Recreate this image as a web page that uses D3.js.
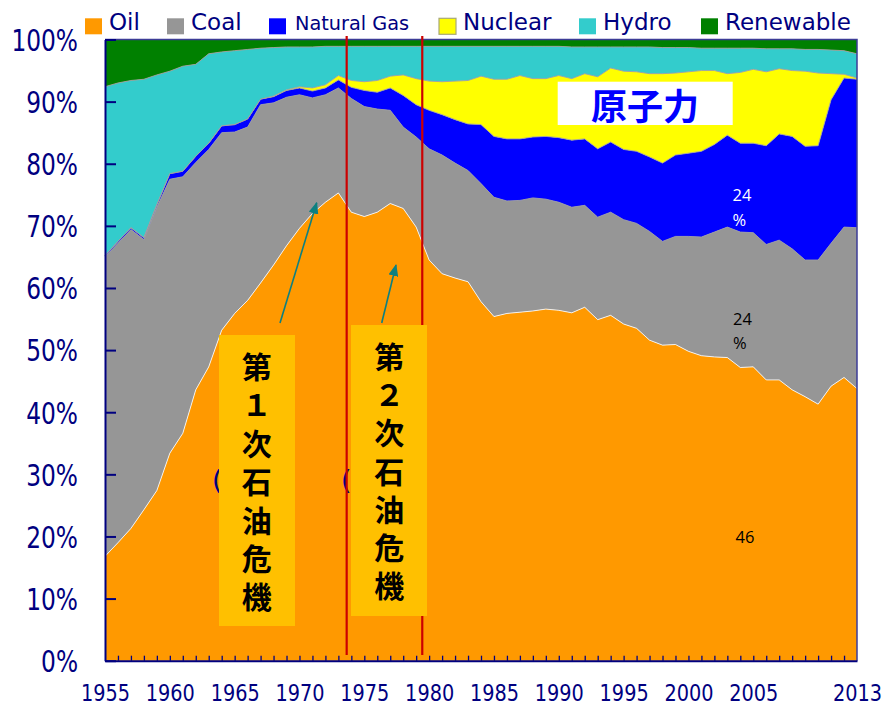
<!DOCTYPE html>
<html><head><meta charset="utf-8">
<script src="https://cdn.jsdelivr.net/npm/d3@7"></script>
<style>body{margin:0;background:#fff;} svg{display:block}</style>
</head><body>
<svg id="chart" width="884" height="706"></svg>
<script>
// ---------------- DATA ----------------
const years = [1955,1956,1957,1958,1959,1960,1961,1962,1963,1964,1965,1966,1967,1968,1969,
  1970,1971,1972,1973,1974,1975,1976,1977,1978,1979,1980,1981,1982,1983,1984,1985,1986,1987,
  1988,1989,1990,1991,1992,1993,1994,1995,1996,1997,1998,1999,2000,2001,2002,2003,2004,2005,
  2006,2007,2008,2009,2010,2011,2012,2013];
const seriesNames = ["Oil","Coal","Natural Gas","Nuclear","Hydro","Renewable"];
const seriesColors = ["#FF9900","#969696","#0000FF","#FFFF00","#33CCCC","#008000"];
const oil = [16.8,19.0,21.3,24.3,27.4,33.4,36.6,43.6,47.3,53.2,55.9,58.0,60.8,63.7,66.8,
  69.6,72.0,73.8,75.3,72.2,71.5,72.2,73.6,72.8,69.8,64.5,62.3,61.6,61.0,57.8,55.4,55.9,56.1,
  56.3,56.6,56.4,56.0,56.9,54.9,55.6,54.2,53.5,51.6,50.8,50.9,49.8,49.1,48.9,48.8,47.2,47.3,
  45.2,45.2,43.6,42.5,41.3,44.2,45.6,43.8];
const coal = [48.2,48.2,48.1,43.5,45.6,44.1,41.3,36.6,35.0,31.8,29.2,27.9,28.7,26.1,23.9,
  21.5,18.6,17.3,16.9,18.3,17.7,16.6,15.0,13.1,14.5,17.9,19.1,18.5,17.9,19.0,19.2,18.1,18.0,
  18.2,17.7,17.4,17.0,16.4,16.5,16.6,16.8,16.9,17.5,16.7,17.4,18.5,19.1,20.1,21.0,21.8,21.6,
  21.8,22.5,22.7,22.0,23.2,23.0,24.2,25.9];
const gas = [0.2,0.3,0.3,0.3,0.4,0.9,0.9,1.0,1.0,1.1,1.2,1.3,0.9,1.0,1.1,
  1.1,1.1,1.1,1.3,1.8,2.6,2.7,3.6,5.1,5.2,6.2,6.5,7.0,7.5,9.5,9.8,10.0,9.9,
  9.8,10.1,10.4,10.8,10.7,11.0,11.3,11.3,11.6,12.0,12.6,13.1,13.4,13.8,14.1,14.8,14.3,14.4,
  15.9,17.1,18.1,18.3,18.4,23.1,24.0,23.9];
const nuclear = [0,0,0,0,0,0,0,0,0,0,0,0,0,0.1,0.1,
  0.2,0.5,0.5,0.7,1.1,1.4,1.9,1.9,3.3,4.2,4.7,5.3,6.2,7.0,7.8,9.2,9.6,10.2,
  9.4,9.3,10.0,9.9,10.5,11.6,11.9,12.6,12.8,13.4,14.4,13.2,13.1,13.0,11.9,9.9,11.4,11.9,
  11.9,10.5,10.6,12.1,11.7,4.2,0.6,0.2];
const hydro = [27.2,25.5,23.7,25.5,20.9,16.5,16.9,14.8,14.4,11.9,11.9,11.2,8.2,7.8,6.9,
  6.4,6.6,6.2,4.7,5.5,5.7,5.5,4.8,4.6,5.2,5.6,5.7,5.6,5.5,4.8,5.3,5.3,4.7,
  5.2,5.2,4.7,5.1,4.3,4.8,3.4,3.9,4.0,4.3,4.2,4.1,3.9,3.6,3.6,4.1,3.9,3.4,
  3.7,3.2,3.5,3.5,3.8,3.8,3.8,3.9];
const renewable = [7.6,7.0,6.6,6.4,5.7,5.1,4.3,4.0,2.3,2.0,1.8,1.6,1.4,1.3,1.2,
  1.2,1.2,1.1,1.1,1.1,1.1,1.1,1.1,1.1,1.1,1.1,1.1,1.1,1.1,1.1,1.1,1.1,1.1,
  1.1,1.1,1.1,1.2,1.2,1.2,1.2,1.2,1.2,1.2,1.3,1.3,1.3,1.4,1.4,1.4,1.4,1.4,
  1.5,1.5,1.5,1.6,1.6,1.7,1.8,2.3];
const xTickLabels = [1955,1960,1965,1970,1975,1980,1985,1990,1995,2000,2005,2013];
const yTickValues = [0,10,20,30,40,50,60,70,80,90,100];
const crisisYears = [1973.64, 1979.47];
const crisisLabels = ["第１次石油危機", "第２次石油危機"];
const nuclearLabel = "原子力";

// ---------------- LAYOUT ----------------
const svg = d3.select("#chart");
const L = 105, R = 857, T = 39.5, B = 660.7;
const navy = "#000080";
const x = d3.scaleLinear().domain([1955, 2013]).range([L, R]);
const y = d3.scaleLinear().domain([0, 100]).range([B, T]).clamp(true);

const rows = years.map((yr, i) => ({year: yr, "Oil": oil[i], "Coal": coal[i], "Natural Gas": gas[i],
  "Nuclear": nuclear[i], "Hydro": hydro[i], "Renewable": renewable[i]}));
const layers = d3.stack().keys(seriesNames)(rows);
const area = d3.area().x(d => x(d.data.year)).y0(d => y(d[0])).y1(d => y(d[1]));
const topLine = d3.line().x(d => x(d.data.year)).y(d => y(d[1]));

svg.append("g").selectAll("path").data(layers).join("path")
  .attr("d", area).attr("fill", (d, i) => seriesColors[i]);
svg.append("g").selectAll("path").data(layers.slice(0, 5)).join("path")
  .attr("d", topLine).attr("fill", "none")
  .attr("stroke", (d, i) => i === 0 ? "#ffffff" : "#a0a0a0")
  .attr("stroke-width", (d, i) => i === 0 ? 0.9 : 1).attr("stroke-opacity", 0.9);

// frame top/right
svg.append("path").attr("d", `M${L},${T}H${R}V${B}`).attr("fill", "none")
  .attr("stroke", "#3c3c96").attr("stroke-width", 1.5);

// parentheses (partially hidden text)
[212, 341].forEach(px => svg.append("text").attr("x", px).attr("y", 488.5)
  .attr("font-family", "DejaVu Sans").attr("font-size", 27).attr("fill", navy).text("("));

// crisis red lines
svg.append("g").selectAll("line").data(crisisYears).join("line")
  .attr("x1", d => x(d)).attr("x2", d => x(d)).attr("y1", 36).attr("y2", 655)
  .attr("stroke", "#CC0000").attr("stroke-width", 2.2);

// arrows
const defs = svg.append("defs");
defs.append("marker").attr("id", "ah").attr("markerUnits", "userSpaceOnUse")
  .attr("viewBox", "0 0 12 10").attr("refX", 11).attr("refY", 5)
  .attr("markerWidth", 12).attr("markerHeight", 10).attr("orient", "auto")
  .append("path").attr("d", "M0,0L12,5L0,10Z").attr("fill", "#0E8080");
const arrows = [[280, 323, 316.7, 202.7], [381.7, 323, 396, 265]];
svg.append("g").selectAll("line").data(arrows).join("line")
  .attr("x1", d => d[0]).attr("y1", d => d[1]).attr("x2", d => d[2]).attr("y2", d => d[3])
  .attr("stroke", "#0E8080").attr("stroke-width", 1.6).attr("marker-end", "url(#ah)");

// crisis boxes with vertical text
const boxes = [{x: 219, y: 335, w: 76, h: 291, cx: 256.7, top: 352},
               {x: 351, y: 325, w: 76, h: 291, cx: 389.3, top: 341.3}];
boxes.forEach((b, k) => {
  svg.append("rect").attr("x", b.x).attr("y", b.y).attr("width", b.w).attr("height", b.h).attr("fill", "#FFC000");
  svg.append("text").attr("x", b.cx).attr("y", b.top)
    .style("writing-mode", "vertical-rl").style("letter-spacing", "8.3px")
    .attr("font-family", "Noto Sans CJK JP").attr("font-weight", "bold").attr("font-size", 30)
    .attr("fill", "#000").text(crisisLabels[k]);
});

// nuclear label
svg.append("rect").attr("x", 557.7).attr("y", 81.7).attr("width", 175).attr("height", 43.3).attr("fill", "#fff");
svg.append("text").attr("x", 645).attr("y", 104).attr("text-anchor", "middle").attr("dominant-baseline", "central")
  .attr("font-family", "Noto Sans CJK JP").attr("font-weight", "bold").attr("font-size", 36)
  .attr("fill", "#0000FF").text(nuclearLabel);

// percent labels
const pctLabels = [
  {t: "24", x: 732.5, y: 194.8, c: "#fff"}, {t: "%", x: 732.5, y: 219.3, c: "#fff"},
  {t: "24", x: 733, y: 318.3, c: "#000"}, {t: "%", x: 733, y: 342.7, c: "#000"},
  {t: "46", x: 735.5, y: 536, c: "#000"}];
svg.append("g").selectAll("text").data(pctLabels).join("text")
  .attr("x", d => d.x).attr("y", d => d.y).attr("dominant-baseline", "central")
  .attr("font-family", "Open Sans").attr("font-size", 16.5).attr("fill", d => d.c).text(d => d.t);

// axes
const yAxis = svg.append("g").attr("transform", `translate(${L},0)`)
  .call(d3.axisLeft(y).tickValues(yTickValues).tickSize(-11).tickSizeOuter(0).tickPadding(27).tickFormat(d => d + "%"));
yAxis.select(".domain").attr("stroke", navy).attr("stroke-width", 2);
yAxis.selectAll(".tick line").attr("stroke", navy).attr("stroke-width", 2);
yAxis.selectAll(".tick text").attr("dy", 0).attr("y", 0)
  .attr("transform", "translate(0,10.8) scale(1,1.28)")
  .attr("font-family", "DejaVu Sans").attr("font-size", 23.3).attr("fill", navy);

const xMinor = svg.append("g").attr("transform", `translate(0,${B})`)
  .call(d3.axisBottom(x).tickValues(years.slice(1, -1)).tickSize(-5).tickSizeOuter(0).tickFormat(""));
xMinor.select(".domain").attr("stroke", navy).attr("stroke-width", 2);
xMinor.selectAll(".tick line").attr("stroke", navy).attr("stroke-width", 1.3);

const xAxis = svg.append("g").attr("transform", `translate(0,${B})`)
  .call(d3.axisBottom(x).tickValues(xTickLabels).tickSize(0).tickFormat(d3.format("d")));
xAxis.select(".domain").remove();
xAxis.selectAll(".tick text").attr("dy", 0).attr("y", 0)
  .attr("transform", "translate(0,39.8) scale(1,1.2)")
  .attr("font-family", "DejaVu Sans").attr("font-size", 19.3).attr("fill", navy);

// legend
const legendX = [85, 167, 269, 439, 579, 701];
const legend = svg.append("g").selectAll("g").data(seriesNames).join("g")
  .attr("transform", (d, i) => `translate(${legendX[i]},0)`);
legend.append("rect").attr("x", 0).attr("y", 18.3).attr("width", 17).attr("height", 16)
  .attr("fill", (d, i) => seriesColors[i])
  .attr("stroke", (d, i) => i === 3 ? "#a8a878" : "none").attr("stroke-width", 1.2);
legend.append("text").attr("x", (d, i) => i === 2 ? 26 : 24).attr("y", 30)
  .attr("font-family", "DejaVu Sans").attr("font-size", (d, i) => i === 2 ? 19.3 : 23)
  .attr("fill", navy).text(d => d);
</script>
</body></html>
